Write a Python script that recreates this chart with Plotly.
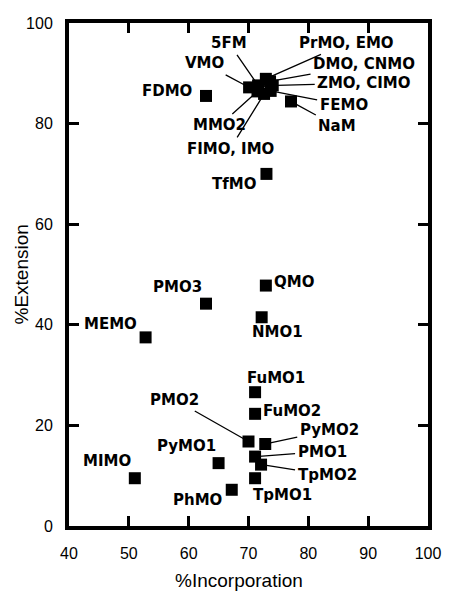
import plotly.graph_objects as go

# ---- data ----
names = ["FDMO", "VMO", "5FM", "PrMO, EMO", "DMO, CNMO", "ZMO, CIMO", "FEMO",
         "MMO2", "FIMO, IMO", "NaM", "TfMO", "PMO3", "QMO", "MEMO", "NMO1",
         "FuMO1", "FuMO2", "PMO2", "PyMO2", "PyMO1", "PMO1", "TpMO2", "MIMO",
         "PhMO", "TpMO1"]
incorporation = [62.9, 70.1, 71.6, 72.9, 73.6, 74.05, 73.7,
                 71.5, 72.6, 77.1, 73.0, 62.9, 72.9, 52.8, 72.2,
                 71.1, 71.1, 70.0, 72.8, 65.0, 71.1, 72.1, 51.0,
                 67.2, 71.1]
extension = [85.5, 87.2, 87.6, 88.9, 88.4, 87.6, 86.5,
             86.4, 85.9, 84.4, 70.0, 44.2, 47.8, 37.5, 41.5,
             26.6, 22.3, 16.8, 16.3, 12.5, 13.8, 12.2, 9.5,
             7.2, 9.5]
x_ticks = [40, 50, 60, 70, 80, 90, 100]
y_ticks = [0, 20, 40, 60, 80, 100]

# ---- label placement (pixels) ----
# labels with leader lines: (ax, ay) offset of text centre from point
leader = {
    "5FM": (-29, -42), "VMO": (-45, -24), "PrMO, EMO": (81, -36),
    "DMO, CNMO": (94, -17), "ZMO, CIMO": (91, -2), "FEMO": (73, 14),
    "NaM": (46, 25), "MMO2": (-38, 34), "FIMO, IMO": (-34, 55),
    "PMO2": (-74, -42), "PyMO2": (64, -14), "PMO1": (67, -5),
    "TpMO2": (66, 10),
}
# labels without lines: (dx, dy) shift, dy positive = up
plain = {
    "FDMO": (-39, 5), "TfMO": (-32, -10), "PMO3": (-29, 17), "QMO": (28, 4),
    "MEMO": (-35, 13), "NMO1": (16, -15), "FuMO1": (21, 14), "FuMO2": (37, 3),
    "TpMO1": (27, -17), "PyMO1": (-32, 17), "MIMO": (-28, 17), "PhMO": (-34, -10),
}

label_font = dict(family="DejaVu Sans", size=15, color="black")

fig = go.Figure()
fig.add_trace(go.Scatter(
    x=incorporation, y=extension, mode="markers",
    marker=dict(symbol="square", size=12, color="black"),
    hoverinfo="text", text=names, showlegend=False,
))

annotations = []
for n, xv, yv in zip(names, incorporation, extension):
    if n in leader:
        ax, ay = leader[n]
        annotations.append(dict(
            x=xv, y=yv, xref="x", yref="y", text="<b>%s</b>" % n,
            showarrow=True, arrowhead=0, arrowwidth=1.3, arrowcolor="black",
            ax=ax, ay=ay, standoff=4, font=label_font, borderpad=2,
        ))
    else:
        dx, dy = plain[n]
        annotations.append(dict(
            x=xv, y=yv, xref="x", yref="y", text="<b>%s</b>" % n,
            showarrow=False, xshift=dx, yshift=dy, font=label_font,
        ))

title_font = dict(family="Liberation Sans, Arial, sans-serif", size=19, color="black")
annotations.append(dict(
    x=0.473, y=-0.108, xref="paper", yref="paper", text="%Incorporation",
    showarrow=False, font=title_font, xanchor="center", yanchor="middle",
))
annotations.append(dict(
    x=-0.131, y=0.5, xref="paper", yref="paper", text="%Extension",
    showarrow=False, font=title_font, textangle=-90,
    xanchor="center", yanchor="middle",
))

axis_common = dict(
    showgrid=False, zeroline=False, showline=True, linecolor="black",
    linewidth=4, mirror="ticks", ticks="inside", ticklen=10, tickwidth=3,
    tickcolor="black",
    tickfont=dict(family="Liberation Sans, Arial, sans-serif", size=16, color="black"),
)

fig.update_layout(
    width=453, height=593,
    margin=dict(l=69, r=16, t=23, b=67),
    paper_bgcolor="white", plot_bgcolor="white",
    xaxis=dict(range=[40, 100], tickvals=x_ticks, ticktext=[str(v) for v in x_ticks],
               ticklabelstandoff=10, **axis_common),
    yaxis=dict(range=[0, 100], tickvals=y_ticks, ticktext=[str(v) for v in y_ticks],
               ticklabelstandoff=9, **axis_common),
    annotations=annotations,
)

fig.write_html("out.html",
               config={"displayModeBar": False},
               post_script="document.body.style.margin='0';document.body.style.padding='0';")
